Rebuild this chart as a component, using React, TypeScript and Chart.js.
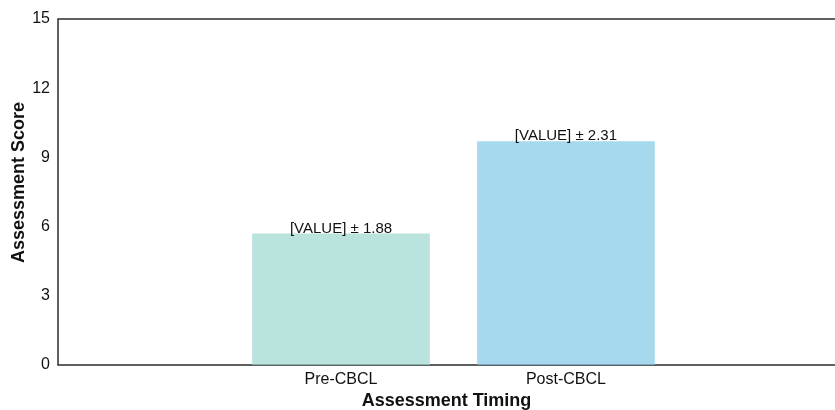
import React, { useEffect, useRef } from 'react';
import { Chart, registerables } from 'chart.js';

Chart.register(...registerables);

// ---- data ----
const categories = ['Pre-CBCL', 'Post-CBCL'];
const positions = [0, 1];
const scores = [5.7, 9.7];
const sds = [1.88, 2.31];
const labelPrefix = '[VALUE]';
const yMin = 0;
const yMax = 15;
const yStep = 3;
const xTitle = 'Assessment Timing';
const yTitle = 'Assessment Score';
const barColors = ['rgba(156,215,208,0.7)', 'rgba(128,199,231,0.7)'];

const FONT = '"Liberation Sans", Arial, Helvetica, sans-serif';

const framePlugin = {
  id: 'frame',
  beforeDatasetsDraw(chart: any) {
    const { ctx, chartArea } = chart;
    const { left, top, right, bottom } = chartArea;
    ctx.save();
    ctx.strokeStyle = '#2b2b2b';
    ctx.lineWidth = 1.5;
    ctx.beginPath();
    ctx.moveTo(right, top);
    ctx.lineTo(left, top);
    ctx.lineTo(left, bottom);
    ctx.lineTo(right, bottom);
    ctx.stroke();
    ctx.restore();
  },
};

const yTitlePlugin = {
  id: 'yTitle',
  afterDraw(chart: any) {
    const { ctx, chartArea } = chart;
    ctx.save();
    ctx.translate(19, chartArea.bottom / 2);
    ctx.rotate(-Math.PI / 2);
    ctx.font = `bold 18px ${FONT}`;
    ctx.fillStyle = '#111';
    ctx.textAlign = 'center';
    ctx.textBaseline = 'middle';
    ctx.fillText(yTitle, 0, 0);
    ctx.restore();
  },
};

const valueLabelPlugin = {
  id: 'valueLabels',
  afterDatasetsDraw(chart: any) {
    const { ctx } = chart;
    const meta = chart.getDatasetMeta(0);
    ctx.save();
    ctx.font = `15px ${FONT}`;
    ctx.fillStyle = '#111';
    ctx.textAlign = 'center';
    ctx.textBaseline = 'alphabetic';
    meta.data.forEach((bar: any, i: number) => {
      ctx.fillText(`${labelPrefix} \u00B1 ${sds[i].toFixed(2)}`, bar.x, bar.y - 1);
    });
    ctx.restore();
  },
};

export default function App() {
  const canvasRef = useRef<HTMLCanvasElement | null>(null);

  useEffect(() => {
    if (!canvasRef.current) return;
    const chart = new Chart(canvasRef.current, {
      type: 'bar',
      data: {
        datasets: [
          {
            data: positions.map((x, i) => ({ x, y: scores[i] })),
            backgroundColor: barColors,
            borderWidth: 0,
            barPercentage: 0.79,
            categoryPercentage: 1,
          },
        ],
      },
      plugins: [framePlugin, valueLabelPlugin, yTitlePlugin],
      options: {
        responsive: false,
        animation: false,
        layout: { padding: { top: 19, right: 0, left: 0, bottom: 0 } },
        plugins: {
          legend: { display: false },
          tooltip: { enabled: false },
        },
        scales: {
          x: {
            type: 'linear',
            offset: false,
            min: -1.258,
            max: 2.196,
            grid: { display: false, drawTicks: false },
            border: { display: false },
            afterBuildTicks: (scale: any) => {
              scale.ticks = positions.map((v) => ({ value: v }));
            },
            afterFit: (scale: any) => {
              scale.height = 45;
            },
            ticks: {
              autoSkip: false,
              maxRotation: 0,
              padding: 5,
              color: '#111',
              font: { family: FONT, size: 16 },
              callback: (v: any) => {
                const idx = positions.indexOf(Number(v));
                return idx >= 0 ? categories[idx] : '';
              },
            },
            title: {
              display: true,
              text: xTitle,
              color: '#111',
              font: { family: FONT, size: 18, weight: 'bold', lineHeight: 1 },
              padding: { top: 0, bottom: 0 },
            },
          },
          y: {
            min: yMin,
            max: yMax,
            grid: { display: false, drawTicks: false },
            border: { display: false },
            afterFit: (scale: any) => {
              scale.width = 58;
            },
            ticks: {
              stepSize: yStep,
              padding: 8,
              color: '#111',
              font: { family: FONT, size: 16 },
            },
            title: { display: false },
          },
        },
      } as any,
    });
    return () => chart.destroy();
  }, []);

  return (
    <div style={{ position: 'fixed', left: 0, top: 0, width: 835, height: 410, background: '#fff' }}>
      <canvas ref={canvasRef} width={835} height={410} style={{ display: 'block' }} />
    </div>
  );
}
